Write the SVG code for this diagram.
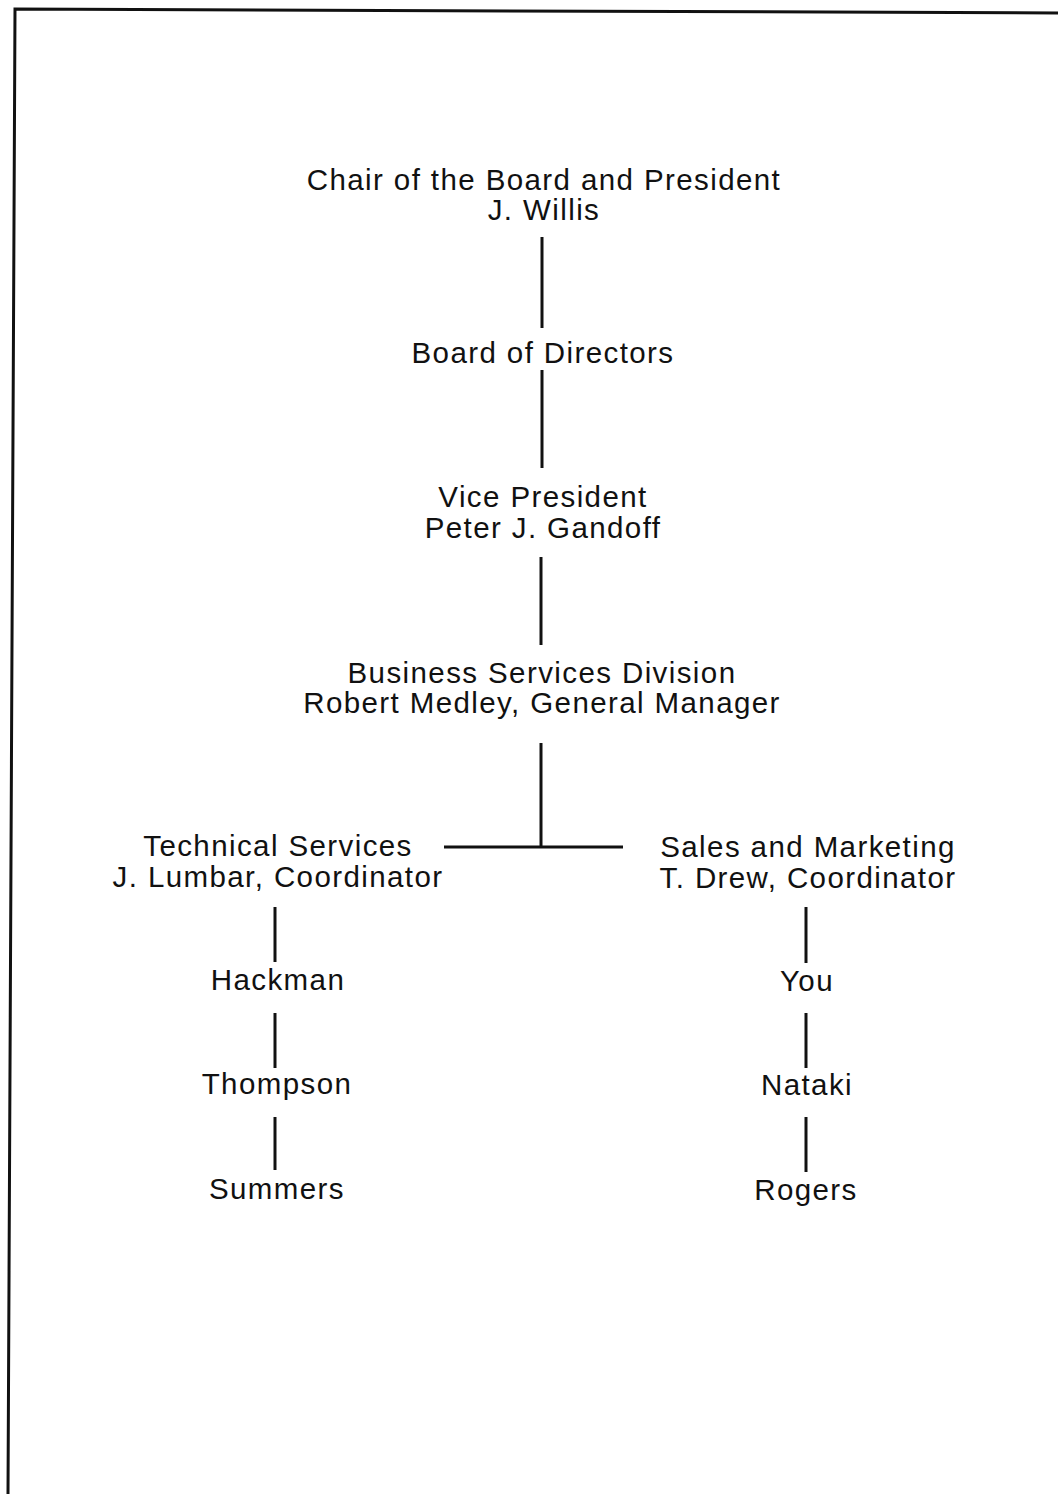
<svg xmlns="http://www.w3.org/2000/svg" width="1058" height="1494" viewBox="0 0 1058 1494">
<style>
text{font-family:"Liberation Sans",Arial,sans-serif;font-size:29.5px;letter-spacing:1.4px;fill:#111;text-anchor:middle}
.c{stroke:#111;stroke-width:3;fill:none}
</style>
<rect width="1058" height="1494" fill="#fff"/>
<polyline points="8,1494 15,9 1058,13" fill="none" stroke="#111" stroke-width="3"/>
<g id="connectors" class="c">
<line x1="542" y1="237" x2="542" y2="328"/>
<line x1="542" y1="370" x2="542" y2="468"/>
<line x1="541" y1="557" x2="541" y2="645"/>
<line x1="541" y1="743" x2="541" y2="847"/>
<line x1="444" y1="847" x2="623" y2="847"/>
<line x1="275" y1="907" x2="275" y2="962"/>
<line x1="275" y1="1013" x2="275" y2="1068"/>
<line x1="275" y1="1117" x2="275" y2="1170"/>
<line x1="806" y1="907" x2="806" y2="963"/>
<line x1="806" y1="1013" x2="806" y2="1068"/>
<line x1="806" y1="1117" x2="806" y2="1172"/>
</g>
<g id="chair"><text x="544" y="190">Chair of the Board and President</text><text x="544" y="220">J. Willis</text></g>
<g id="board"><text x="543" y="363">Board of Directors</text></g>
<g id="vp"><text x="543" y="507">Vice President</text><text x="543" y="538">Peter J. Gandoff</text></g>
<g id="bsd"><text x="542" y="683">Business Services Division</text><text x="542" y="713">Robert Medley, General Manager</text></g>
<g id="tech"><text x="278" y="856">Technical Services</text><text x="278" y="887">J. Lumbar, Coordinator</text></g>
<g id="sales"><text x="808" y="857">Sales and Marketing</text><text x="808" y="888">T. Drew, Coordinator</text></g>
<g id="hackman"><text x="278" y="990">Hackman</text></g>
<g id="thompson"><text x="277" y="1094">Thompson</text></g>
<g id="summers"><text x="277" y="1199">Summers</text></g>
<g id="you"><text x="807" y="991">You</text></g>
<g id="nataki"><text x="807" y="1095">Nataki</text></g>
<g id="rogers"><text x="806" y="1200">Rogers</text></g>
</svg>
